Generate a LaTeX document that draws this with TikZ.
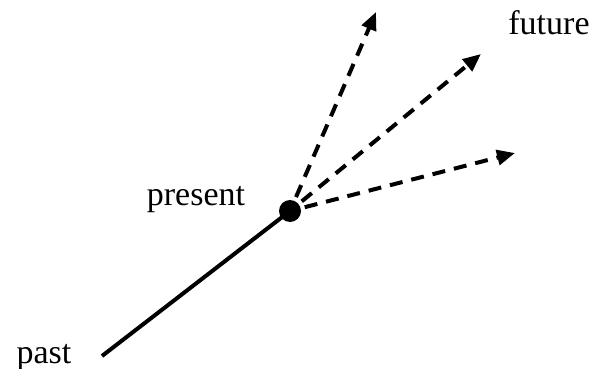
\documentclass[tikz,border=0pt]{standalone}
\usepackage{fontspec}
\setmainfont{Liberation Serif}
\usetikzlibrary{arrows.meta}
\begin{document}
\begin{tikzpicture}[x=1pt,y=-1pt,
  lbl/.style={font=\fontsize{34}{36}\selectfont, inner sep=0pt, anchor=base},
  fut/.style={line width=4pt, dash pattern=on 13pt off 9pt, -{Triangle[length=18pt,width=15pt]}, shorten <=4pt}]
\useasboundingbox (0,0) rectangle (602,369);
\node[circle, fill=black, minimum size=22pt, inner sep=0pt] (now) at (290,211) {};
\coordinate (p) at (102,356);
\coordinate (f1) at (376,12);
\coordinate (f2) at (481,54);
\coordinate (f3) at (515,153);
\draw[line width=4pt] (p) -- (now.center);
\draw[fut] (now) -- (f1);
\draw[fut] (now) -- (f2);
\draw[fut] (now) -- (f3);
\node[lbl] (tf) at (549,35) {future};
\node[lbl] (tp) at (196,205) {present};
\node[lbl] (tpa) at (44,363) {past};
\end{tikzpicture}
\end{document}
